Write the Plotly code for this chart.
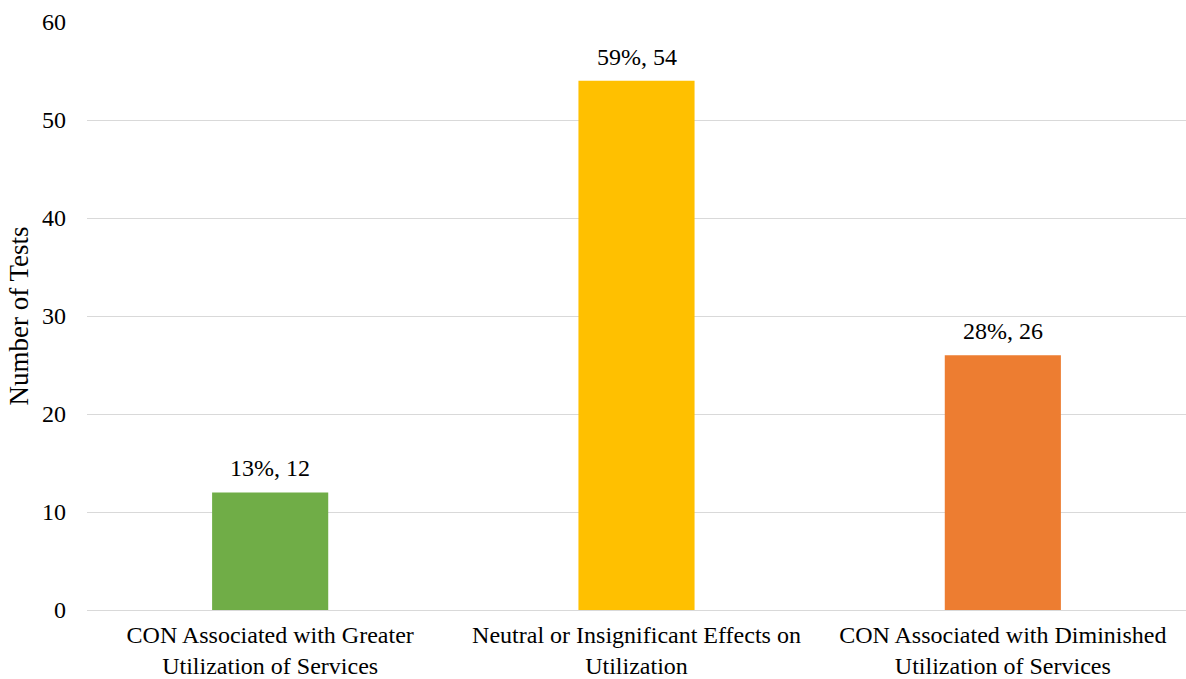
import plotly.graph_objects as go

categories = [
    "CON Associated with Greater<br>Utilization of Services",
    "Neutral or Insignificant Effects on<br>Utilization",
    "CON Associated with Diminished<br>Utilization of Services",
]
test_counts = [12, 54, 26]
test_shares = ["13%", "59%", "28%"]
bar_colors = ["#70AD47", "#FFC000", "#ED7D31"]

FONT = "Liberation Serif, Times New Roman, serif"
SIZE = 24

fig = go.Figure(
    go.Bar(
        x=categories,
        y=test_counts,
        marker=dict(color=bar_colors, line=dict(width=0)),
        width=0.317,
        hoverinfo="skip",
    )
)

for cat, n, pct in zip(categories, test_counts, test_shares):
    fig.add_annotation(
        x=cat, y=n, text=f"{pct}, {n}", showarrow=False,
        yanchor="bottom", yshift=9,
        font=dict(family=FONT, size=SIZE, color="#000000"),
    )

fig.update_layout(
    width=1186, height=679,
    margin=dict(l=87, r=0, t=22, b=69),
    paper_bgcolor="white", plot_bgcolor="white",
    font=dict(family=FONT, size=SIZE, color="#000000"),
    showlegend=False,
    bargap=0.683,
    xaxis=dict(
        showgrid=False, showline=False, zeroline=False, ticks="",
        ticklabelstandoff=8,
        tickfont=dict(family=FONT, size=SIZE, color="#000000"),
    ),
    yaxis=dict(
        range=[0, 60], dtick=10, showgrid=True, gridcolor="#D9D9D9",
        gridwidth=1.3, zeroline=True, zerolinecolor="#D9D9D9", zerolinewidth=1.3,
        showline=False, ticks="", ticklabelstandoff=20,
        tickfont=dict(family=FONT, size=SIZE, color="#000000"),
        title=dict(text="Number of Tests", standoff=5,
                   font=dict(family=FONT, size=27, color="#000000")),
    ),
)

fig.write_html("out.html")
